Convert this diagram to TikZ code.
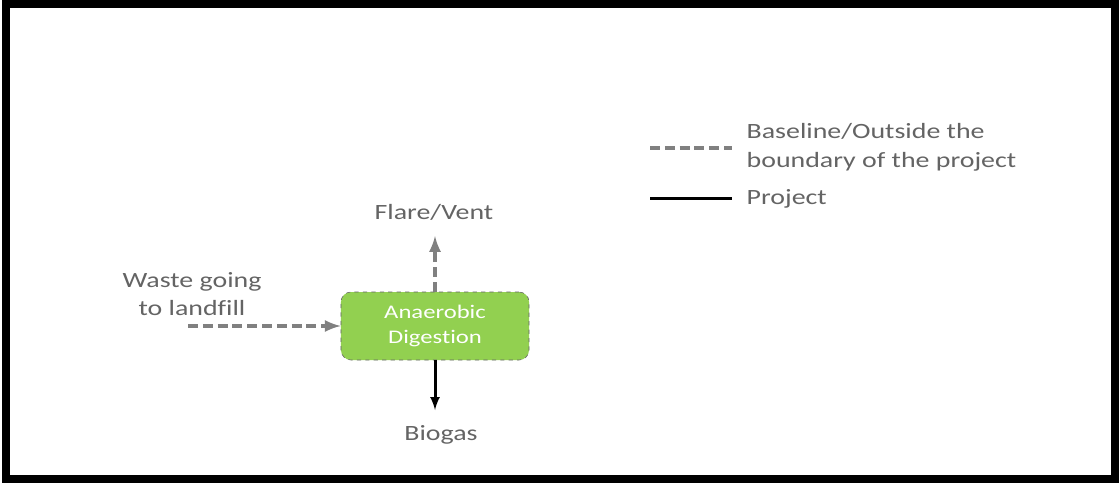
\documentclass[tikz,border=0pt]{standalone}
\usepackage{fontspec}
\setmainfont{Carlito}[FakeStretch=1.28, Ligatures = NoCommon, RawFeature = {-calt}]
\usetikzlibrary{positioning}

\definecolor{textgray}{RGB}{100,100,100}
\definecolor{flowgray}{RGB}{128,128,128}
\definecolor{boxgreen}{RGB}{146,208,80}

\begin{document}
\begin{tikzpicture}[> = latex, x = 0.025cm, y = -0.025cm,
	label/.style = {text = textgray, font = \fontsize{15.5}{20.5}\selectfont, align = center, inner sep = 1pt},
	process/.style = {fill = boxgreen, draw = textgray, dashed, thin, rounded corners = 0.25cm,
		minimum width = 4.7cm, minimum height = 1.7cm, text = white, align = center,
		font = \fontsize{13.7}{17.7}\selectfont},
	baseflow/.style = {flowgray, line width = 0.1cm, dash pattern = on 0.25cm off 0.12cm},
	projflow/.style = {black, line width = 0.075cm}]

	% Frame

	\useasboundingbox (0, 0) rectangle (1119, 483);
	\draw [line width = 0.2cm] (6, 4) rectangle (1115, 479);

	% Process + labels

	\node [process] (digest) at (435, 326) {Anaerobic\\Digestion};

	\node [label] (flare) at (434, 212) {Flare/Vent};
	\node [label] (biogas) at (441, 435) {Biogas};
	\node [label] (waste) at (192, 294) {Waste going\\to landfill};

	\coordinate (flareend) at (435, 236);
	\coordinate (biogasend) at (435, 410);
	\coordinate (wastestart) at (188, 326);

	% Flows

	\draw [baseflow, ->] (digest.north) -- (flareend);
	\draw [baseflow, ->] (wastestart) -- (digest.west);
	\draw [projflow, ->] (digest.south) -- (biogasend);

	% Legend

	\coordinate (baseA) at (650, 148);
	\coordinate (baseB) at (732, 148);
	\coordinate (projA) at (650, 198);
	\coordinate (projB) at (732, 198);

	\draw [baseflow] (baseA) -- (baseB);
	\draw [projflow] (projA) -- (projB);

	\node [label, anchor = west, align = left] (basetext) at (745, 147) {Baseline/Outside the\\boundary of the project};
	\node [label, anchor = west] (projtext) at (745, 199) {Project};

\end{tikzpicture}
\end{document}
